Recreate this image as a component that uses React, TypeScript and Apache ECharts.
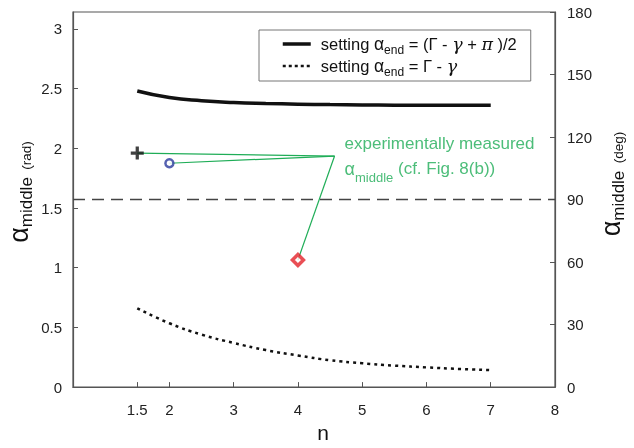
import React, { useEffect, useRef } from "react";
import * as echarts from "echarts";

const xTickValues = [1.5, 2, 3, 4, 5, 6, 7, 8];
const yTickValuesRad = [0, 0.5, 1, 1.5, 2, 2.5, 3];
const nValues = [1.5, 2, 2.5, 3, 3.5, 4, 4.5, 5, 5.5, 6, 6.5, 7];
const solidValues = [2.48, 2.425, 2.398, 2.383, 2.375, 2.37, 2.366, 2.363, 2.361, 2.36, 2.36, 2.36];
const dottedValues = [0.66, 0.535, 0.44, 0.37, 0.31, 0.265, 0.225, 0.2, 0.18, 0.165, 0.152, 0.142];
const measuredPlus: [number, number] = [1.5, 1.96];
const measuredCircle: [number, number] = [2, 1.875];
const measuredDiamond: [number, number] = [4, 1.065];
const annotationAnchor: [number, number] = [4.57, 1.935];
const referenceLine = Math.PI / 2;

const SOLID_NAME = "setting αend = (Γ - γ + π )/2";
const DOTTED_NAME = "setting αend = Γ - γ";

const GREEN = "#1fad57";
const FONT = "Liberation Sans, Arial, sans-serif";

export default function App() {
  const ref = useRef<HTMLDivElement>(null);
  useEffect(() => {
    if (!ref.current) return;
    const chart = echarts.init(ref.current, null, { renderer: "svg" });
    const pair = (a: number[], b: number[]) => a.map((v, i) => [v, b[i]]);
    const connectors = [measuredPlus, measuredCircle, measuredDiamond].map((p) => ({
      type: "line",
      data: [p, annotationAnchor],
      symbol: "none",
      lineStyle: { color: GREEN, width: 1.2 },
      z: 3,
      silent: true,
    }));
    const axisLabelName = (unit: string, x: number, y: number) => ({
      type: "text",
      x,
      y,
      rotation: Math.PI / 2,
      style: {
        text: "{a|α}{s|middle}{r|  " + unit + "}",
        align: "center",
        verticalAlign: "middle",
        rich: {
          a: { fontSize: 27, fill: "#111", fontFamily: FONT, lineHeight: 26, verticalAlign: "bottom" },
          s: { fontSize: 17, fill: "#111", fontFamily: FONT, lineHeight: 17, verticalAlign: "bottom", padding: [0, 0, -3, 0] },
          r: { fontSize: 13.5, fill: "#111", fontFamily: FONT, lineHeight: 14, verticalAlign: "bottom", padding: [0, 0, -1, 0] },
        },
      },
    });
    chart.setOption({
      animation: false,
      textStyle: { fontFamily: FONT },
      grid: {
        left: 73,
        right: 79,
        top: 12,
        bottom: 58,
        show: true,
        borderColor: "#555",
        borderWidth: 1.2,
      },
      legend: {
        left: 259,
        top: 30,
        orient: "vertical",
        data: [
          { name: SOLID_NAME, lineStyle: { width: 3.5, color: "#111" } },
          { name: DOTTED_NAME, lineStyle: { width: 2.5, color: "#111", type: [3, 3] } },
        ],
        borderColor: "#777",
        borderWidth: 1,
        padding: [5, 14, 3, 22],
        itemWidth: 28,
        itemHeight: 14,
        itemGap: 1,
        itemStyle: { opacity: 0, borderWidth: 0 },
        formatter: (name: string) =>
          name === SOLID_NAME
            ? "{t|setting }{a|α}{s|end}{t| = (Γ - }{g|γ}{t| + }{g|π}{t| )/2}"
            : "{t|setting }{a|α}{s|end}{t| = Γ - }{g|γ}",
        textStyle: {
          padding: [0, 0, 0, 5],
          rich: {
            t: { fontSize: 16.5, color: "#111", fontFamily: FONT, lineHeight: 18 },
            a: { fontSize: 17.5, color: "#111", fontFamily: FONT, lineHeight: 18 },
            g: { fontSize: 17.5, color: "#111", fontFamily: "DejaVu Serif", fontStyle: "italic", lineHeight: 18 },
            s: { fontSize: 12, color: "#111", fontFamily: FONT, lineHeight: 10, verticalAlign: "bottom", padding: [0, 0, -3, 0] },
          },
        },
      },
      xAxis: {
        type: "value",
        min: 0.5,
        max: 8,
        name: "n",
        nameLocation: "middle",
        nameGap: 33,
        nameTextStyle: { fontSize: 21, color: "#111", fontFamily: FONT, padding: [0, 0, 0, 18] },
        axisLine: { show: true, lineStyle: { color: "#555", width: 1.2 } },
        axisTick: { show: true, inside: true, length: 5, customValues: xTickValues, lineStyle: { color: "#555" } },
        axisLabel: { customValues: xTickValues, fontSize: 15, color: "#222", margin: 15, fontFamily: FONT },
        splitLine: { show: false },
      },
      yAxis: [
        {
          type: "value",
          min: 0,
          max: Math.PI,
          position: "left",
          axisLine: { show: true, lineStyle: { color: "#555", width: 1.2 } },
          axisTick: { show: true, inside: true, length: 5, customValues: yTickValuesRad, lineStyle: { color: "#555" } },
          axisLabel: { customValues: yTickValuesRad, fontSize: 15, color: "#222", margin: 11, fontFamily: FONT },
          splitLine: { show: false },
        },
        {
          type: "value",
          min: 0,
          max: 180,
          interval: 30,
          position: "right",
          axisLine: { show: true, lineStyle: { color: "#555", width: 1.2 } },
          axisTick: { show: true, inside: true, length: 5, lineStyle: { color: "#555" } },
          axisLabel: { fontSize: 15, color: "#222", margin: 12, fontFamily: FONT },
          splitLine: { show: false },
        },
      ],
      graphic: [axisLabelName("(rad)", 19, 192), axisLabelName("(deg)", 611, 184)],
      series: [
        {
          name: SOLID_NAME,
          type: "line",
          data: pair(nValues, solidValues),
          smooth: true,
          symbol: "none",
          itemStyle: { color: "#111" },
          lineStyle: { color: "#111", width: 3.5 },
          z: 4,
          markLine: {
            silent: true,
            symbol: "none",
            label: { show: false },
            lineStyle: { color: "#444", width: 1.3, type: [12, 7] },
            data: [{ yAxis: referenceLine }],
          },
        },
        {
          name: DOTTED_NAME,
          type: "line",
          data: pair(nValues, dottedValues),
          smooth: true,
          symbol: "none",
          itemStyle: { color: "#111" },
          lineStyle: { color: "#111", width: 2.5, type: [3, 4] },
          z: 4,
        },
        ...connectors,
        {
          type: "scatter",
          data: [measuredPlus],
          symbol: "path://M0,5H12V8H0Z M4.5,0.5H7.5V12.5H4.5Z",
          symbolSize: 13,
          itemStyle: { color: "#111" },
          z: 6,
        },
        {
          type: "scatter",
          data: [measuredCircle],
          symbol: "circle",
          symbolSize: 8,
          itemStyle: { color: "#fff", borderColor: "#2b3a9c", borderWidth: 2.5 },
          z: 6,
        },
        {
          type: "scatter",
          data: [measuredDiamond],
          symbol: "diamond",
          symbolSize: 11,
          itemStyle: { color: "#fff", borderColor: "#e3232b", borderWidth: 3.5 },
          z: 6,
        },
        {
          type: "scatter",
          data: [annotationAnchor],
          symbolSize: 0,
          silent: true,
          label: {
            show: true,
            position: "right",
            distance: 10,
            formatter: "{t|experimentally measured}\n{a|α}{s|middle}{t| (cf. Fig. 8(b))}",
            rich: {
              t: { fontSize: 17, color: GREEN, fontFamily: FONT, lineHeight: 25 },
              a: { fontSize: 18, color: GREEN, fontFamily: FONT, lineHeight: 25 },
              s: { fontSize: 13, color: GREEN, fontFamily: FONT, lineHeight: 14, verticalAlign: "bottom", padding: [0, 0, -3, 0] },
            },
          },
          z: 5,
        },
      ],
    });
    return () => chart.dispose();
  }, []);
  return <div ref={ref} style={{ position: "fixed", left: 0, top: 0, width: 634, height: 448 }} />;
}
